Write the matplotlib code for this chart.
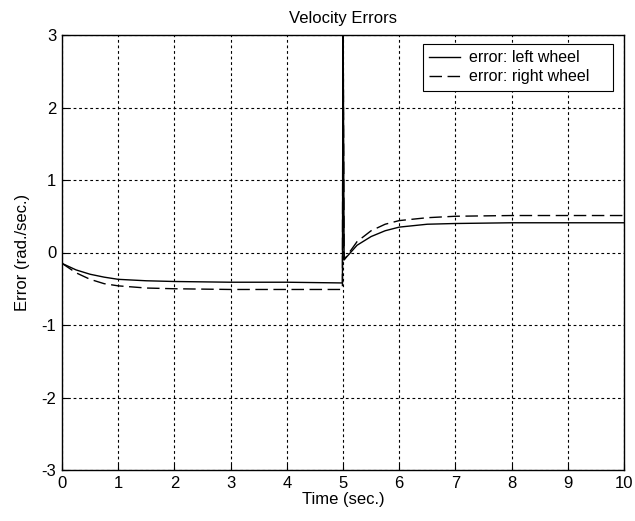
import matplotlib
matplotlib.use("Agg")
import matplotlib.pyplot as plt

plt.rcParams['font.family'] = ['Liberation Sans', 'DejaVu Sans']
plt.rcParams['axes.unicode_minus'] = False

t_left = [0, 0.25, 0.5, 0.75, 1.0, 1.5, 2.0, 3.0, 4.0, 4.99, 5.0, 5.02, 5.25, 5.5, 5.75, 6.0, 6.5, 7.0, 8.0, 10.0]
v_left = [-0.15, -0.24, -0.30, -0.34, -0.37, -0.39, -0.40, -0.41, -0.41, -0.42, 3.5, -0.10, 0.10, 0.22, 0.30, 0.35, 0.39, 0.40, 0.41, 0.41]
t_right = [0, 0.25, 0.5, 0.75, 1.0, 1.5, 2.0, 3.0, 4.0, 4.99, 5.0, 5.02, 5.25, 5.5, 5.75, 6.0, 6.5, 7.0, 8.0, 10.0]
v_right = [-0.15, -0.28, -0.37, -0.43, -0.46, -0.49, -0.50, -0.51, -0.51, -0.51, 3.5, -0.10, 0.15, 0.30, 0.39, 0.44, 0.48, 0.50, 0.51, 0.51]

x_ticks = [0, 1, 2, 3, 4, 5, 6, 7, 8, 9, 10]
y_ticks = [-3, -2, -1, 0, 1, 2, 3]

fig = plt.figure(figsize=(6.35, 5.21), dpi=100)
ax = fig.add_axes([62/635, 1-470/521, (624-62)/635, (470-35)/521])

ax.plot(t_left, v_left, color='black', lw=1.0, label='error: left wheel')
ax.plot(t_right, v_right, color='black', lw=1.0, linestyle=(0, (9, 4)), label='error: right wheel')

ax.set_xlim(0, 10)
ax.set_ylim(-3, 3)
ax.set_xticks(x_ticks)
ax.set_yticks(y_ticks)
ax.tick_params(direction='in', labelsize=12, length=4, width=0.8, pad=4)
ax.grid(True, color='black', linestyle=(0, (2.5, 2.5)), linewidth=0.8)
for s in ax.spines.values():
    s.set_linewidth(1.0)

ax.set_title('Velocity Errors', fontsize=12, pad=9)
ax.set_xlabel('Time (sec.)', fontsize=12, labelpad=1)
ax.set_ylabel('Error (rad./sec.)', fontsize=12, labelpad=8)

leg = ax.legend(loc='upper left',
                bbox_to_anchor=((423-62)/562, 1-(44-35)/435 - 0.108, (613-423)/562, 0.108),
                mode='expand',
                fontsize=11.5, frameon=True, fancybox=False,
                edgecolor='black', framealpha=1, handlelength=1.9, handletextpad=0.6,
                borderaxespad=0.0, borderpad=0.4, labelspacing=0.25)
leg.get_frame().set_linewidth(0.8)

fig.savefig('out.png', dpi=100)
